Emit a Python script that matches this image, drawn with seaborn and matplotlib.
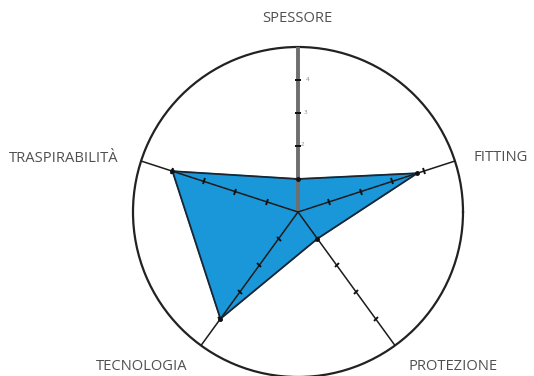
import numpy as np
import matplotlib
matplotlib.use("Agg")
import matplotlib.pyplot as plt
from matplotlib.markers import MarkerStyle
from matplotlib.transforms import Affine2D
import seaborn as sns

# Radar data: one value per criterion on a 0-5 scale
categories = ["SPESSORE", "FITTING", "PROTEZIONE", "TECNOLOGIA", "TRASPIRABILITÀ"]
scores = [1.0, 3.8, 1.0, 4.0, 4.0]
scale_ticks = [1, 2, 3, 4]
scale_labels = ["", "2", "3", "4"]
r_max = 5

sns.set_theme(style="white")
plt.rcParams["font.family"] = ["Open Sans", "DejaVu Sans"]

W, H = 534, 376
fig = plt.figure(figsize=(W / 100, H / 100), dpi=100)
cx, cy, rad = 298, 212, 165
ax = fig.add_axes([(cx - rad) / W, (H - cy - rad) / H, 2 * rad / W, 2 * rad / H],
                  projection="polar")

# axes start at the top and go clockwise
angles_deg = np.array([90 - 72 * i for i in range(len(categories))], dtype=float)
theta = np.deg2rad(angles_deg)

ax.set_ylim(0, r_max)
ax.grid(False)
ax.set_xticks([])
ax.set_yticks([])
ax.spines["polar"].set_color("#222222")
ax.spines["polar"].set_linewidth(1.6)
ax.set_facecolor("white")

# filled profile
th_closed = np.append(theta, theta[0])
r_closed = np.append(scores, scores[0])
ax.fill(th_closed, r_closed, color="#1A97D8", zorder=2)

# spokes
for i, (a, t) in enumerate(zip(angles_deg, theta)):
    if i == 0:
        ax.plot([t, t], [0, r_max], color="#6E6E6E", lw=2.8, zorder=3, solid_capstyle="butt")
    else:
        ax.plot([t, t], [0, r_max], color="#1C1C1C", lw=1.1, zorder=3)
    tick_marker = MarkerStyle("|", transform=Affine2D().rotate_deg(a))
    ax.plot([t] * len(scale_ticks), scale_ticks, ls="none", marker=tick_marker,
            markersize=4, markeredgewidth=1.4, color="#111111", zorder=4)

# scale labels along the first spoke
for v, lab in zip(scale_ticks, scale_labels):
    if lab:
        ax.text(np.deg2rad(86), np.hypot(v, 0.45), lab, fontsize=4.5, color="#888888",
                ha="center", va="center", zorder=5)

# profile outline
sns.lineplot(x=th_closed, y=r_closed, ax=ax, sort=False, color="#1B2430",
             lw=1.3, zorder=5, estimator=None)
ax.plot(theta, scores, ls="none", marker="o", markersize=2.5, color="#111111", zorder=6)

# category labels
label_pos = [(297, 18), (501, 157), (453, 367), (142, 366), (64, 158)]
for name, (px, py) in zip(categories, label_pos):
    fig.text(px / W, 1 - py / H, name, fontsize=10.6, color="#505050",
             ha="center", va="center")

fig.savefig("out.png", dpi=100)
